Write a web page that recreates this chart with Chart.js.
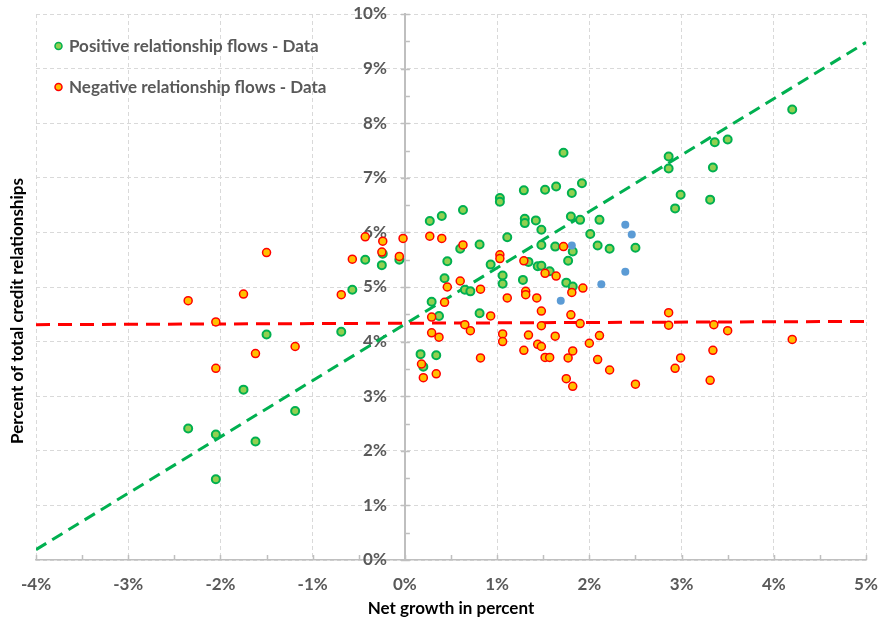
<!DOCTYPE html>
<html>
<head>
<meta charset="utf-8">
<title>Relationship flows vs net growth</title>
<script src="https://cdn.jsdelivr.net/npm/chart.js@4.4.1/dist/chart.umd.min.js"></script>
<style>
    body { margin: 0; background: #fff; }
    #wrap { width: 878px; height: 622px; position: relative; }
</style>
</head>
<body>
<div id="wrap"><canvas id="flowChart" width="878" height="622"></canvas></div>
<script>
// Positive relationship flows (green), in percent
const posX = [-2.35, -2.05, -2.05, -1.75, -1.62, -1.50, -1.19, -0.69, -0.57, -0.43, -0.25, -0.24, -0.06,
    0.17, 0.20, 0.34, 0.29, 0.37, 0.27, 0.40, 0.43, 0.46, 0.60, 0.63, 0.65, 0.71, 0.81, 0.81, 0.93,
    1.03, 1.03, 1.06, 1.06, 1.11, 1.28, 1.29, 1.30, 1.30, 1.34, 1.42, 1.44, 1.48, 1.48, 1.48, 1.52,
    1.57, 1.63, 1.64, 1.72, 1.75, 1.77, 1.80, 1.81, 1.82, 1.82, 1.90, 1.92, 2.01, 2.09, 2.11, 2.22,
    2.50, 2.86, 2.86, 2.93, 2.99, 3.31, 3.34, 3.36, 3.50, 4.20];
const posY = [2.41, 2.30, 1.48, 3.12, 2.17, 4.13, 2.73, 4.18, 4.95, 5.50, 5.40, 5.61, 5.50,
    3.77, 3.54, 3.75, 4.73, 4.47, 6.21, 6.30, 5.16, 5.47, 5.70, 6.41, 4.95, 4.92, 5.78, 4.52, 5.41,
    6.63, 6.56, 5.21, 5.06, 5.91, 5.13, 6.77, 6.25, 6.17, 5.46, 6.22, 5.38, 5.39, 6.05, 5.77, 6.78,
    5.29, 5.74, 6.84, 7.46, 5.08, 5.48, 6.29, 6.72, 5.65, 5.01, 6.23, 6.90, 5.97, 5.76, 6.23, 5.70,
    5.72, 7.39, 7.17, 6.44, 6.69, 6.60, 7.19, 7.65, 7.70, 8.25];

// Negative relationship flows (red / orange)
const negX = [-2.35, -2.05, -2.05, -1.75, -1.62, -1.50, -1.19, -0.69, -0.57, -0.43, -0.24, -0.25, -0.06, -0.02,
    0.18, 0.20, 0.34, 0.27, 0.40, 0.63, 0.29, 0.29, 0.37, 0.43, 0.46, 0.60, 0.65, 0.71, 0.82, 0.82, 0.93,
    1.03, 1.03, 1.06, 1.06, 1.11, 1.29, 1.29, 1.31, 1.31, 1.34, 1.43, 1.44, 1.48, 1.48, 1.48, 1.52, 1.52,
    1.57, 1.63, 1.64, 1.72, 1.75, 1.77, 1.80, 1.81, 1.82, 1.82, 1.90, 1.93, 2.00, 2.09, 2.11, 2.22, 2.50,
    2.86, 2.86, 2.93, 2.99, 3.31, 3.34, 3.35, 3.50, 4.20];
const negY = [4.75, 4.36, 3.51, 4.87, 3.78, 5.63, 3.91, 4.86, 5.51, 5.92, 5.84, 5.64, 5.56, 5.89,
    3.59, 3.34, 3.41, 5.93, 5.89, 5.77, 4.45, 4.16, 4.08, 4.72, 5.00, 5.11, 4.31, 4.20, 4.96, 3.70, 4.47,
    5.59, 5.52, 4.14, 4.00, 4.80, 5.48, 3.84, 4.92, 4.86, 4.12, 4.80, 3.95, 3.91, 4.56, 4.29, 5.25, 3.71,
    3.71, 4.10, 5.20, 5.74, 3.32, 3.70, 4.49, 4.90, 3.83, 3.18, 4.33, 4.98, 3.97, 3.67, 4.11, 3.48, 3.22,
    4.53, 4.30, 3.51, 3.70, 3.29, 3.84, 4.31, 4.20, 4.04];

// Unlabelled blue points
const otherX = [2.39, 2.46, 1.81, 2.39, 2.13, 1.69];
const otherY = [6.14, 5.96, 5.76, 5.28, 5.05, 4.75];

// Dashed fit lines, end points
const fitX = [-4, 5];
const posFitY = [0.19, 9.48];
const negFitY = [4.31, 4.37];

const xTicks = [-4, -3, -2, -1, 0, 1, 2, 3, 4, 5];
const yTicks = [0, 1, 2, 3, 4, 5, 6, 7, 8, 9, 10];

const legendLabels = ['Positive relationship flows - Data', 'Negative relationship flows - Data'];
const yTitle = 'Percent of total credit relationships';
const xTitle = 'Net growth in percent';

const FONT = 'Lato, "Open Sans", sans-serif';
const FONT_SIZE = 17;

function toPoints(xs, ys) {
    return xs.map((x, i) => ({ x: x, y: ys[i] }));
}

// small tick marks every 0.5% on both axes
const axisMarks = {
    id: 'axisMarks',
    afterDraw(chart) {
        const { ctx, scales } = chart;
        const x0 = scales.x.getPixelForValue(0);
        const y0 = scales.y.getPixelForValue(0);
        ctx.save();
        ctx.strokeStyle = '#BFBFBF';
        ctx.lineWidth = 1.5;
        ctx.beginPath();
        for (let v = 0; v <= 10; v += 0.5) {
            const py = Math.round(scales.y.getPixelForValue(v)) + 0.5;
            ctx.moveTo(v % 1 === 0 ? x0 - 4 : x0, py);
            ctx.lineTo(x0 + 5, py);
        }
        for (let v = -4; v <= 5; v += 0.5) {
            const px = Math.round(scales.x.getPixelForValue(v)) + 0.5;
            ctx.moveTo(px, y0 - 5);
            ctx.lineTo(px, y0);
        }
        ctx.stroke();
        ctx.restore();
    }
};

// legend inside the plot + rotated y title
const sideText = {
    id: 'sideText',
    afterDraw(chart) {
        const ctx = chart.ctx;
        ctx.save();
        const markers = [
            { fill: '#92D050', stroke: '#00B050' },
            { fill: '#FFC000', stroke: '#FF0000' }
        ];
        ctx.font = 'bold ' + FONT_SIZE + 'px ' + FONT;
        ctx.textBaseline = 'middle';
        legendLabels.forEach((label, i) => {
            const y = 46 + i * 41;
            ctx.beginPath();
            ctx.arc(58.5, y, 3.5, 0, Math.PI * 2);
            ctx.fillStyle = markers[i].fill;
            ctx.fill();
            ctx.lineWidth = 1.5;
            ctx.strokeStyle = markers[i].stroke;
            ctx.stroke();
            ctx.fillStyle = '#595959';
            ctx.textAlign = 'left';
            ctx.fillText(label, 69, y + 1);
        });
        ctx.translate(18, 311);
        ctx.rotate(-Math.PI / 2);
        ctx.textAlign = 'center';
        ctx.fillStyle = '#000';
        ctx.fillText(yTitle, 0, 0);
        ctx.restore();
    }
};

document.addEventListener('DOMContentLoaded', function() {
    initializeChart();
});

function initializeChart() {
    if (typeof Chart === 'undefined') return;

    const tickFont = { family: FONT, size: FONT_SIZE, weight: 'bold' };
    const gridOpts = {
        color: '#D9D9D9',
        lineWidth: 1,
        drawTicks: true,
        tickLength: 14,
        tickColor: 'rgba(0,0,0,0)'
    };

    new Chart(document.getElementById('flowChart'), {
        type: 'scatter',
        data: {
            datasets: [
                {
                    label: 'Positive fit',
                    data: toPoints(fitX, posFitY),
                    showLine: true,
                    borderColor: '#00B050',
                    borderWidth: 3,
                    borderDash: [12, 7],
                    pointRadius: 0,
                    order: 5
                },
                {
                    label: 'Negative fit',
                    data: toPoints(fitX, negFitY),
                    showLine: true,
                    borderColor: '#FF0000',
                    borderWidth: 3,
                    borderDash: [14, 8],
                    pointRadius: 0,
                    order: 4
                },
                {
                    label: legendLabels[0],
                    data: toPoints(posX, posY),
                    backgroundColor: '#92D050',
                    borderColor: '#00B050',
                    borderWidth: 2,
                    pointRadius: 4,
                    order: 3
                },
                {
                    label: 'Other',
                    data: toPoints(otherX, otherY),
                    backgroundColor: '#5B9BD5',
                    borderColor: '#5B9BD5',
                    borderWidth: 0,
                    pointRadius: 4,
                    order: 2
                },
                {
                    label: legendLabels[1],
                    data: toPoints(negX, negY),
                    backgroundColor: '#FFC000',
                    borderColor: '#FF0000',
                    borderWidth: 1.5,
                    pointRadius: 4,
                    order: 1
                }
            ]
        },
        options: {
            responsive: false,
            animation: false,
            devicePixelRatio: 1,
            layout: { padding: { left: 36, right: 12, top: 14, bottom: 0 } },
            plugins: {
                legend: { display: false },
                tooltip: { enabled: false }
            },
            scales: {
                x: {
                    type: 'linear',
                    position: 'bottom',
                    min: -4,
                    max: 5,
                    afterBuildTicks: (axis) => { axis.ticks = xTicks.map(v => ({ value: v })); },
                    afterFit: (axis) => { axis.height = 62; },
                    grid: gridOpts,
                    border: { display: true, color: '#BFBFBF', width: 1.5, dash: [4, 3] },
                    ticks: {
                        padding: 0,
                        color: '#595959',
                        font: tickFont,
                        callback: (v) => v + '%'
                    },
                    title: {
                        display: true,
                        text: xTitle,
                        color: '#000',
                        font: tickFont,
                        padding: { top: 0, bottom: 3 }
                    }
                },
                // axis line + horizontal grid, crossing at x = 0
                y: {
                    type: 'linear',
                    position: { x: 0 },
                    min: 0,
                    max: 10,
                    afterBuildTicks: (axis) => { axis.ticks = yTicks.map(v => ({ value: v })); },
                    grid: gridOpts,
                    border: { display: true, color: '#BFBFBF', width: 2, dash: [4, 3] },
                    ticks: { display: false }
                },
                // tick labels, set a little left of the axis line
                yLabels: {
                    type: 'linear',
                    axis: 'y',
                    position: { x: -0.195 },
                    min: 0,
                    max: 10,
                    afterBuildTicks: (axis) => { axis.ticks = yTicks.map(v => ({ value: v })); },
                    grid: { display: false, drawTicks: false },
                    border: { display: false },
                    ticks: {
                        padding: 0,
                        color: '#595959',
                        font: tickFont,
                        callback: (v) => v + '%'
                    }
                }
            }
        },
        plugins: [axisMarks, sideText]
    });
}
</script>
</body>
</html>
